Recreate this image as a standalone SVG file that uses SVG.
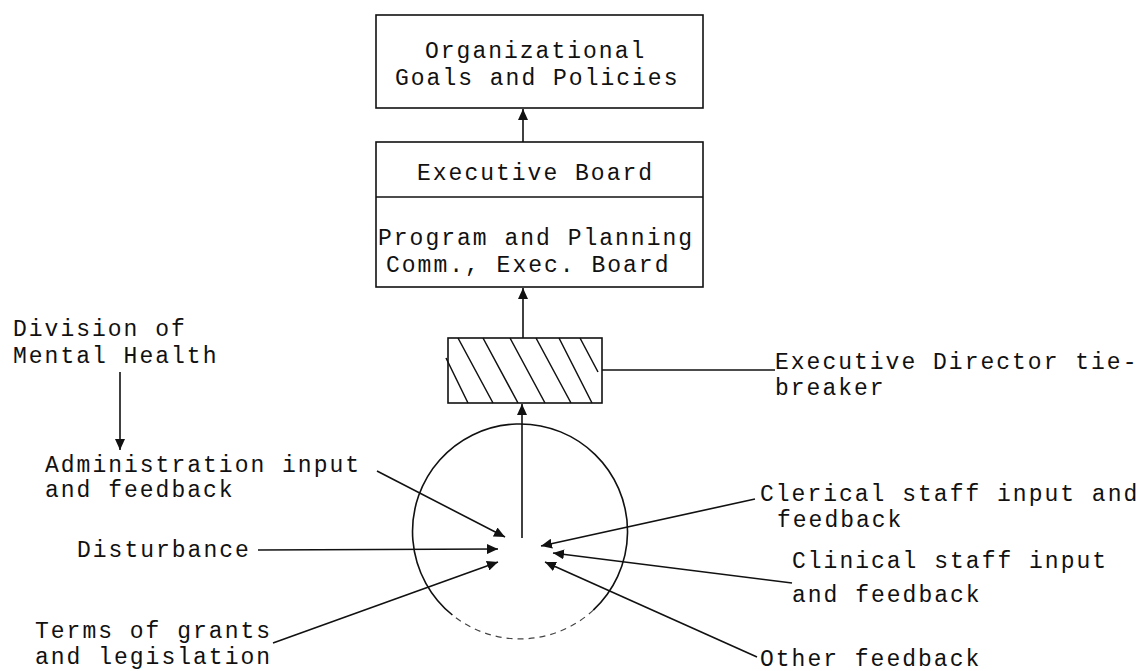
<svg xmlns="http://www.w3.org/2000/svg" width="1145" height="671" viewBox="0 0 1145 671">
  <style>
    .box { fill: #fff; stroke: #111; stroke-width: 1.6; }
    .ln { fill: none; stroke: #111; stroke-width: 1.6; }
    .hatch { fill: none; stroke: #111; stroke-width: 1.5; }
    .lbl { font-family: "Liberation Mono", "DejaVu Sans Mono", monospace; font-size: 23px; letter-spacing: 2px; fill: #111; }
  </style>
  <defs>
    <marker id="arrow" markerUnits="userSpaceOnUse" markerWidth="12" markerHeight="10" refX="11" refY="5" orient="auto">
      <path d="M0,0 L11,5 L0,10 z" fill="#111"/>
    </marker>
  </defs>
  <rect width="1145" height="671" fill="#fff"/>

  <!-- top box -->
  <g id="goals">
    <rect class="box" x="376" y="15" width="327" height="93"/>
    <text class="lbl" x="425" y="58">Organizational</text>
    <text class="lbl" x="395" y="85">Goals and Policies</text>
  </g>

  <!-- executive board with planning committee -->
  <g id="board">
    <rect class="box" x="376" y="142" width="327" height="145"/>
    <line class="ln" x1="376" y1="197" x2="703" y2="197"/>
    <text class="lbl" x="417" y="180">Executive Board</text>
    <text class="lbl" x="378" y="245">Program and Planning</text>
    <text class="lbl" x="386" y="272">Comm., Exec. Board</text>
  </g>

  <!-- executive director (hatched) -->
  <g id="director">
    <rect class="box" x="448" y="338" width="154" height="65"/>
    <path class="hatch" d="M446,358 L468,403 M458,338 L493,403 M483,338 L518,403 M510,338 L545,403 M536,338 L571,403 M559,338 L592,403 M580,338 L598,372"/>
    <text class="lbl" x="775" y="369">Executive Director tie-</text>
    <text class="lbl" x="775" y="395">breaker</text>
  </g>

  <!-- staff circle -->
  <g id="staff">
    <path class="ln" d="M452.4,615 A107.5,107.5 0 1 1 593.3,610.1"/>
    <path d="M593.3,610.1 A107.5,107.5 0 0 1 452.4,615" fill="none" stroke="#444" stroke-width="1.2" stroke-dasharray="6 5"/>
  </g>

  <!-- external inputs -->
  <g id="labels">
    <text class="lbl" x="13" y="336">Division of</text>
    <text class="lbl" x="13" y="363">Mental Health</text>
    <text class="lbl" x="45" y="472">Administration input</text>
    <text class="lbl" x="45" y="497">and feedback</text>
    <text class="lbl" x="77" y="557">Disturbance</text>
    <text class="lbl" x="35" y="638">Terms of grants</text>
    <text class="lbl" x="35" y="664">and legislation</text>
    <text class="lbl" x="760" y="501">Clerical staff input and</text>
    <text class="lbl" x="777" y="527">feedback</text>
    <text class="lbl" x="792" y="568">Clinical staff input</text>
    <text class="lbl" x="792" y="602">and feedback</text>
    <text class="lbl" x="760" y="666">Other feedback</text>
  </g>

  <g id="connectors">
    <line class="ln" x1="523" y1="142" x2="523" y2="109" marker-end="url(#arrow)"/>
    <line class="ln" x1="523" y1="338" x2="523" y2="288" marker-end="url(#arrow)"/>
    <line class="ln" x1="522" y1="538" x2="522" y2="404" marker-end="url(#arrow)"/>
    <line class="ln" x1="602" y1="370" x2="775" y2="370"/>
    <line class="ln" x1="120" y1="372" x2="120" y2="450" marker-end="url(#arrow)"/>
    <line class="ln" x1="377" y1="471" x2="505" y2="537" marker-end="url(#arrow)"/>
    <line class="ln" x1="258" y1="550" x2="498" y2="549" marker-end="url(#arrow)"/>
    <line class="ln" x1="273" y1="643" x2="498" y2="562" marker-end="url(#arrow)"/>
    <line class="ln" x1="755" y1="499" x2="541" y2="546" marker-end="url(#arrow)"/>
    <line class="ln" x1="792" y1="583" x2="553" y2="553" marker-end="url(#arrow)"/>
    <line class="ln" x1="757" y1="657" x2="545" y2="562" marker-end="url(#arrow)"/>
  </g>
</svg>
